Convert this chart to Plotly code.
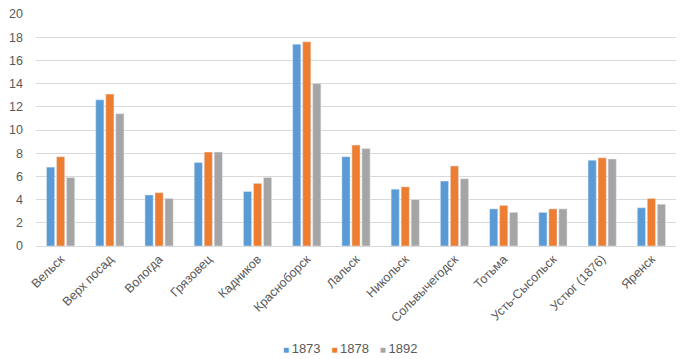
import plotly.graph_objects as go

categories = ["Вельск", "Верх посад", "Вологда", "Грязовец", "Кадников", "Красноборск",
              "Лальск", "Никольск", "Сольвычегодск", "Тотьма", "Усть-Сысольск",
              "Устюг (1876)", "Яренск"]
v1873 = [6.8, 12.6, 4.4, 7.2, 4.7, 17.4, 7.7, 4.9, 5.6, 3.2, 2.9, 7.4, 3.3]
v1878 = [7.7, 13.1, 4.6, 8.1, 5.4, 17.6, 8.7, 5.1, 6.9, 3.5, 3.2, 7.6, 4.1]
v1892 = [5.9, 11.4, 4.1, 8.1, 5.9, 14.0, 8.4, 4.0, 5.8, 2.9, 3.2, 7.5, 3.6]
series = [("1873", v1873, "#5B9BD5"), ("1878", v1878, "#ED7D31"), ("1892", v1892, "#A5A5A5")]

fig = go.Figure()
for name, vals, col in series:
    fig.add_trace(go.Bar(x=categories, y=vals, name=name, marker_color=col, showlegend=False))

fam = "Liberation Sans, Arial, sans-serif"
font = dict(family=fam, size=12, color="#595959")

legend_text = "&nbsp;&nbsp;&nbsp;".join(
    f"<span style='color:{col};font-size:10px'>■</span>\u2009{name}" for name, _, col in series)
fig.add_annotation(text=legend_text, xref="paper", yref="paper", x=0.49, y=-0.44,
                   xanchor="center", yanchor="middle", showarrow=False,
                   font=dict(family=fam, size=13, color="#595959"))

fig.update_layout(
    width=684, height=359,
    margin=dict(l=36, r=8, t=14, b=113),
    paper_bgcolor="white", plot_bgcolor="white",
    barmode="group", bargap=0.39, bargroupgap=0.18,
    font=font,
    showlegend=False,
    xaxis=dict(tickangle=-45, showgrid=False, showline=True, linecolor="#D9D9D9",
               ticks="", tickfont=dict(family=fam, size=12.5, color="#595959"),
               automargin=False),
    yaxis=dict(range=[0, 20], dtick=2, showgrid=True, gridcolor="#D9D9D9", zeroline=False,
               showline=False, ticks="", tickfont=dict(family=fam, size=12.5, color="#595959"),
               automargin=False, ticklabelstandoff=12),
)
fig.write_html("out.html", config={"displayModeBar": False},
               post_script="document.body.style.margin='0';")
